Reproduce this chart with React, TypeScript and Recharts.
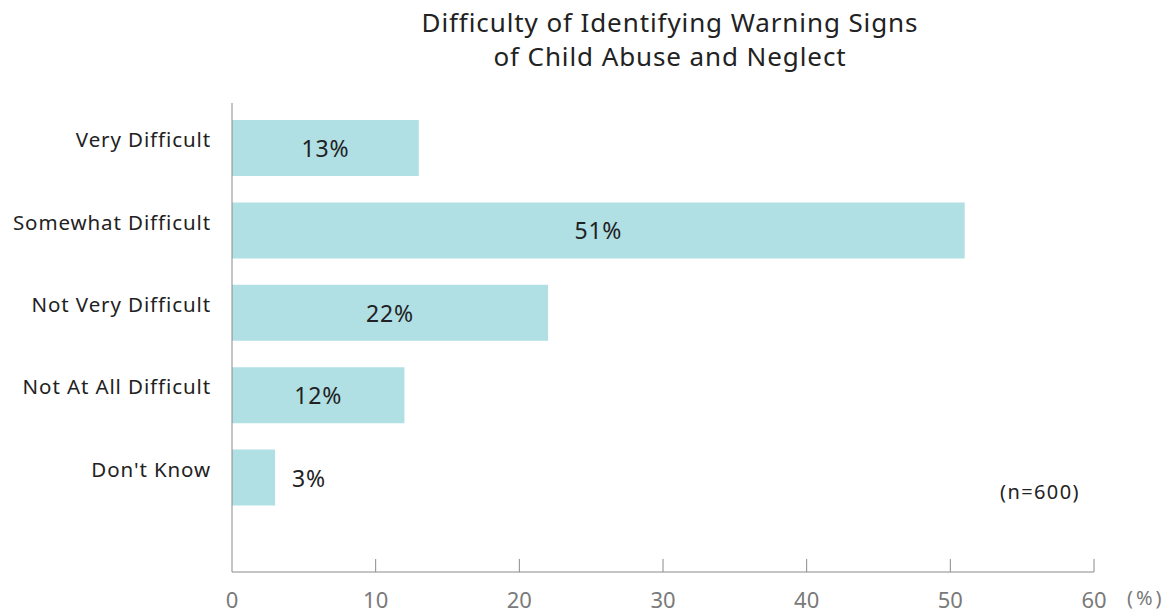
import { BarChart, Bar, XAxis, YAxis, LabelList } from 'recharts';

const categories = ['Very Difficult', 'Somewhat Difficult', 'Not Very Difficult', 'Not At All Difficult', "Don't Know"];
const percents = [13, 51, 22, 12, 3];
const xTicks = [0, 10, 20, 30, 40, 50, 60];

const data = categories.map((name, i) => ({ name, value: percents[i] }));

const font = '"Noto Sans", sans-serif';
const axisColor = '#8a8a8a';
const barColor = '#b0dfe4';

function XTick(props: any) {
  const { x, y, payload } = props;
  return (
    <g>
      {payload.value !== 0 && <line x1={x} y1={y} x2={x} y2={y - 13} stroke={axisColor} strokeWidth={1} />}
      <text x={x} y={y + 36} textAnchor="middle" fontSize={22} fill="#7a7a7a" fontFamily={font}>
        {payload.value}
      </text>
    </g>
  );
}

function YTick(props: any) {
  const { x, y, payload } = props;
  return (
    <text x={x} y={y - 1} textAnchor="end" fontSize={20.5} fill="#222" fontFamily={font} letterSpacing={0.9}>
      {payload.value}
    </text>
  );
}

function BarLabel(props: any) {
  const { x, y, width, height, value } = props;
  const outside = value < 5;
  return (
    <text
      x={outside ? x + width + 17 : x + width / 2}
      y={y + height / 2 + 9}
      textAnchor={outside ? 'start' : 'middle'}
      fontSize={23}
      fill="#222"
      fontFamily={font}
      letterSpacing={0.8}
    >
      {value}%
    </text>
  );
}

export default function App() {
  return (
    <div style={{ position: 'absolute', left: 0, top: 0, width: 1169, height: 613, background: '#fff', fontFamily: font }}>
      <div style={{ position: 'absolute', left: 0, width: 1340, top: 5, textAlign: 'center', fontSize: 26, lineHeight: '34px', color: '#222', letterSpacing: 0.9 }}>
        Difficulty of Identifying Warning Signs
        <br />
        of Child Abuse and Neglect
      </div>
      <BarChart
        width={1169}
        height={613}
        data={data}
        layout="vertical"
        margin={{ top: 103, right: 75, bottom: 11, left: 0 }}
      >
        <XAxis
          type="number"
          domain={[0, 60]}
          ticks={xTicks}
          height={30}
          axisLine={{ stroke: axisColor }}
          tickLine={false}
          tickSize={0}
          tickMargin={0}
          tick={<XTick />}
        />
        <YAxis
          type="category"
          dataKey="name"
          width={232}
          padding={{ top: 4, bottom: 53 }}
          axisLine={{ stroke: axisColor }}
          tickLine={false}
          tickSize={0}
          tickMargin={21}
          tick={<YTick />}
        />
        <Bar dataKey="value" fill={barColor} barSize={56} isAnimationActive={false}>
          <LabelList dataKey="value" content={<BarLabel />} />
        </Bar>
      </BarChart>
      <div style={{ position: 'absolute', left: 1000, top: 478, fontSize: 20, color: '#222', letterSpacing: 1.4, whiteSpace: 'nowrap' }}>(n=600)</div>
      <div style={{ position: 'absolute', left: 1127, top: 585, width: 40, whiteSpace: 'nowrap', fontSize: 20, color: '#7a7a7a', letterSpacing: 3, lineHeight: '26px' }}>(%)</div>
    </div>
  );
}
